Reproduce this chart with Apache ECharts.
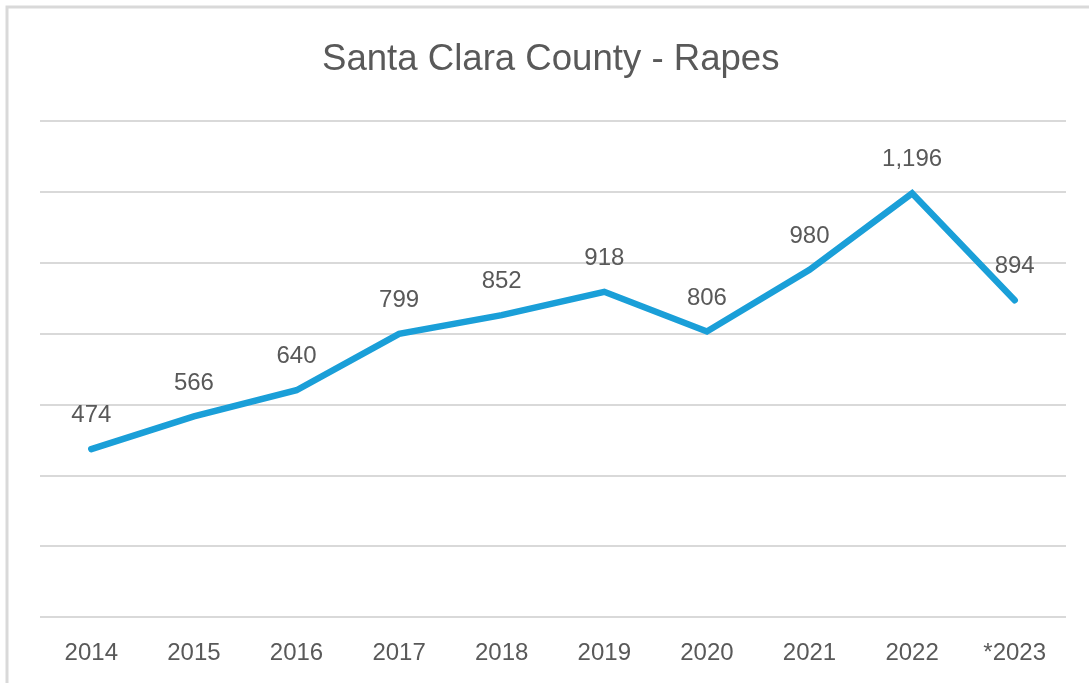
<!DOCTYPE html>
<html lang="en">
<head>
    <meta charset="UTF-8">
    <title>Santa Clara County - Rapes</title>
    <script src="https://cdn.jsdelivr.net/npm/echarts@6.0.0/dist/echarts.min.js"></script>
    <style>
        html, body {
            margin: 0;
            padding: 0;
            background: #fff;
            overflow: hidden;
        }
        #chart {
            width: 1089px;
            height: 683px;
        }
    </style>
</head>
<body>
    <div id="chart"></div>

    <script>
        // data
        var years = ['2014', '2015', '2016', '2017', '2018', '2019', '2020', '2021', '2022', '*2023'];
        var rapes = [474, 566, 640, 799, 852, 918, 806, 980, 1196, 894];

        var textColor = '#595959';
        var font = '"Liberation Sans", Arial, sans-serif';

        var chart = echarts.init(document.getElementById('chart'));

        var option = {
            animation: false,
            backgroundColor: '#fff',
            title: {
                text: 'Santa Clara County - Rapes',
                left: 317,
                top: 36,
                textStyle: {
                    color: textColor,
                    fontFamily: font,
                    fontSize: 36.6,
                    fontWeight: 'normal'
                }
            },
            // chart-area border, cut off on right and bottom like the screenshot
            graphic: [{
                type: 'rect',
                silent: true,
                shape: { x: 7, y: 7, width: 1300, height: 900 },
                style: { fill: 'none', stroke: '#d9d9d9', lineWidth: 3 }
            }],
            grid: {
                left: 40,
                right: 23,
                top: 121,
                bottom: 66
            },
            xAxis: {
                type: 'category',
                data: years,
                boundaryGap: true,
                axisLine: { show: false },
                axisTick: { show: false },
                axisLabel: {
                    color: textColor,
                    fontFamily: font,
                    fontSize: 24,
                    margin: 24
                }
            },
            yAxis: {
                type: 'value',
                min: 0,
                max: 1400,
                interval: 200,
                axisLabel: { show: false },
                axisLine: { show: false },
                axisTick: { show: false },
                splitLine: {
                    lineStyle: { color: '#d9d9d9', width: 2 }
                }
            },
            series: [{
                name: 'Rapes',
                type: 'line',
                data: rapes,
                symbol: 'circle',
                symbolSize: 1,
                showSymbol: true,
                itemStyle: { color: '#1a9fd8' },
                lineStyle: {
                    color: '#1a9fd8',
                    width: 6.5,
                    cap: 'round',
                    join: 'miter'
                },
                label: {
                    show: true,
                    position: 'top',
                    distance: 21,
                    color: textColor,
                    fontFamily: font,
                    fontSize: 24,
                    formatter: function (p) {
                        return p.value.toLocaleString('en-US');
                    }
                }
            }]
        };

        chart.setOption(option);

        window.addEventListener('resize', function () {
            chart.resize();
        });
    </script>
</body>
</html>
